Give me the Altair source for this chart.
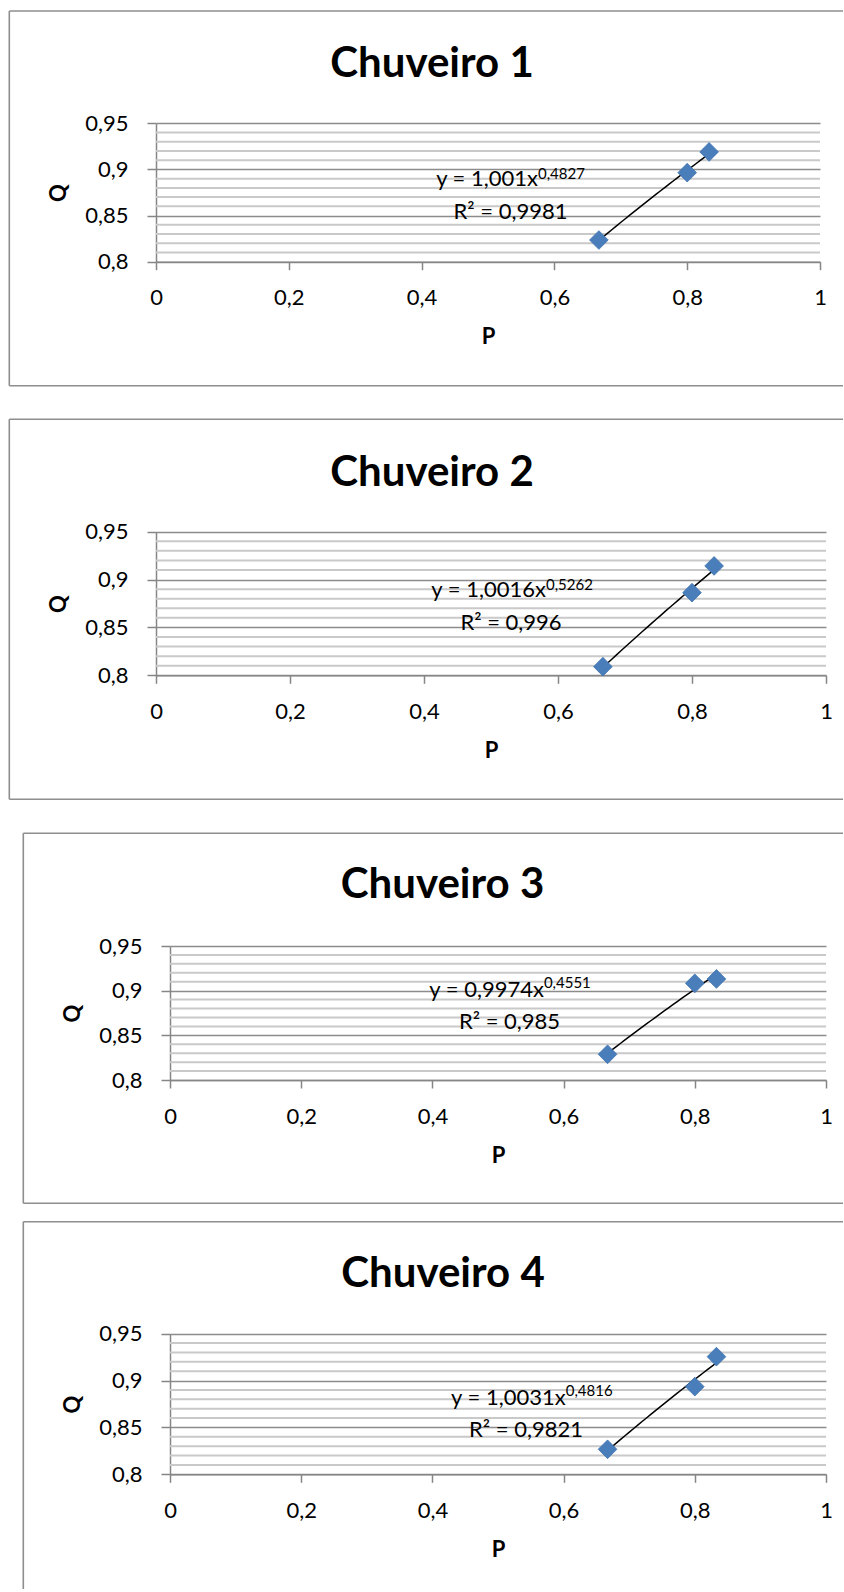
import altair as alt
import pandas as pd

# ---------------- data ----------------
TITLES = ["Chuveiro 1", "Chuveiro 2", "Chuveiro 3", "Chuveiro 4"]
P_VALUES = [0.667, 0.800, 0.833]
Q_SERIES = [
    [0.8235, 0.8965, 0.9190],
    [0.8090, 0.8863, 0.9142],
    [0.8288, 0.9082, 0.9131],
    [0.8267, 0.8935, 0.9255],
]
EQ_MAIN = ["y = 1,001x", "y = 1,0016x", "y = 0,9974x", "y = 1,0031x"]
EQ_EXP = ["0,4827", "0,5262", "0,4551", "0,4816"]
R2_TEXT = ["R² = 0,9981", "R² = 0,996", "R² = 0,985", "R² = 0,9821"]
X_TICKS = [0, 0.2, 0.4, 0.6, 0.8, 1]
Y_MAJOR = [0.8, 0.85, 0.9, 0.95]
Y_MINOR = [0.81, 0.82, 0.83, 0.84, 0.86, 0.87, 0.88, 0.89, 0.91, 0.92, 0.93, 0.94]

# ---------------- layout (pixels inside each panel slot) ----------------
LAYOUT = [
    dict(h=400, left=156, right=820, top=123.3, bottom=261.7, fl=9.3, ft=11, fb=385.7,
         tx=432, ty=77.3, eqx=0.5753, eqy=0.8895, expy=0.8951, r2x=0.5339, r2y=0.8535),
    dict(h=410, left=156, right=826, top=131.7, bottom=275.3, fl=9.3, ft=19.3, fb=399.3,
         tx=432, ty=85.6, eqx=0.582, eqy=0.8891, expy=0.8943, r2x=0.5299, r2y=0.8543),
    dict(h=400, left=170, right=826, top=136, bottom=270, fl=23.3, ft=23.3, fb=393.3,
         tx=442.5, ty=88.3, eqx=0.570, eqy=0.9007, expy=0.9089, r2x=0.5175, r2y=0.8653),
    dict(h=380, left=170, right=826, top=123.7, bottom=264.3, fl=23.3, ft=11.7, fb=None,
         tx=443, ty=77.3, eqx=0.6032, eqy=0.8814, expy=0.8892, r2x=0.5427, r2y=0.8473),
]
W = 844
FRAME = "#8e8e8e"
AXIS_GRAY = "#868686"
FONT = "Lato"


def panel(i):
    L = LAYOUT[i]
    xs = alt.Scale(domain=[0, 1], range=[L["left"], L["right"]], nice=False, zero=False)
    ys = alt.Scale(domain=[0.8, 0.95], range=[L["bottom"], L["top"]], nice=False, zero=False)
    x_axis = alt.Axis(values=X_TICKS, offset=-(L["h"] - L["bottom"]), grid=False,
                      tickSize=8, labelPadding=18, titlePadding=18,
                      labelExpr="replace(format(datum.value, '.1~f'), '.', ',')")
    y_axis = alt.Axis(values=Y_MAJOR, offset=-L["left"], grid=True,
                      tickSize=9, labelPadding=19, titlePadding=14,
                      labelExpr="replace(format(datum.value, '.2~f'), '.', ',')")

    df = pd.DataFrame({"P": P_VALUES, "Q": Q_SERIES[i]})
    base = alt.Chart(df)
    one = alt.Data(values=[{}])

    minor = alt.Chart(pd.DataFrame({"Q": Y_MINOR})).mark_rule(
        color="#c9c9c9", strokeWidth=2
    ).encode(
        y=alt.Y("Q:Q", scale=ys, title="Q"),
        x=alt.datum(0, scale=xs),
        x2=alt.datum(1),
    )

    layers = [minor]

    fr = dict(color=FRAME, strokeWidth=1.6)
    layers.append(alt.Chart(one).mark_rule(**fr).encode(
        x=alt.value(L["fl"]), x2=alt.value(W - 1), y=alt.value(L["ft"])))
    layers.append(alt.Chart(one).mark_rule(**fr).encode(
        x=alt.value(L["fl"]), y=alt.value(L["ft"]),
        y2=alt.value(L["fb"] if L["fb"] is not None else L["h"] - 1)))
    if L["fb"] is not None:
        layers.append(alt.Chart(one).mark_rule(**fr).encode(
            x=alt.value(L["fl"]), x2=alt.value(W - 1), y=alt.value(L["fb"])))

    title = alt.Chart(pd.DataFrame({"t": [TITLES[i]]})).mark_text(
        font=FONT, fontSize=42, fontWeight="bold", align="center",
        baseline="alphabetic", color="black"
    ).encode(x=alt.value(L["tx"]), y=alt.value(L["ty"]), text="t:N")
    layers.append(title)

    trend = base.transform_regression("P", "Q", method="pow").mark_line(
        color="black", strokeWidth=1.5
    ).encode(x=alt.X("P:Q", scale=xs), y=alt.Y("Q:Q", scale=ys))
    layers.append(trend)

    points = base.mark_point(
        shape="diamond", filled=True, size=350, color="#4A7EBB", opacity=1,
        stroke="#3F72AE", strokeWidth=0.8
    ).encode(
        x=alt.X("P:Q", scale=xs, axis=x_axis, title="P"),
        y=alt.Y("Q:Q", scale=ys, axis=y_axis, title="Q"),
    )
    layers.append(points)

    txt = pd.DataFrame({"main": [EQ_MAIN[i]], "exp": [EQ_EXP[i]], "r2": [R2_TEXT[i]]})
    tchart = alt.Chart(txt)
    layers.append(tchart.mark_text(font=FONT, fontSize=22, align="right",
                                   baseline="middle", color="black").encode(
        x=alt.datum(L["eqx"]), y=alt.datum(L["eqy"]), text="main:N"))
    layers.append(tchart.mark_text(font=FONT, fontSize=15, align="left",
                                   baseline="middle", color="black").encode(
        x=alt.datum(L["eqx"]), y=alt.datum(L["expy"]), text="exp:N"))
    layers.append(tchart.mark_text(font=FONT, fontSize=22, align="center",
                                   baseline="middle", color="black").encode(
        x=alt.datum(L["r2x"]), y=alt.datum(L["r2y"]), text="r2:N"))

    return alt.layer(*layers).properties(width=W, height=L["h"])


chart = alt.vconcat(*[panel(i) for i in range(4)], spacing=0, bounds="flush").properties(
    padding=0
).configure(font=FONT).configure_view(stroke=None, strokeWidth=0).configure_axis(
    domainColor=AXIS_GRAY, domainWidth=1.5, tickColor=AXIS_GRAY, tickWidth=1.5,
    gridColor="#8c8c8c", gridWidth=1.5,
    labelFont=FONT, labelFontSize=22, labelColor="black", labelFlush=False,
    titleFont=FONT, titleFontSize=22, titleFontWeight="bold", titleColor="black",
)

chart.save("out.html", embed_options={"renderer": "svg", "actions": False})
